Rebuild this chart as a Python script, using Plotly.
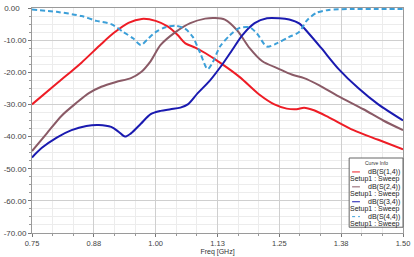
import plotly.graph_objects as go

# ---- data ----
f_s14 = [0.75, 0.80, 0.85, 0.89, 0.915, 0.945, 0.972, 1.00, 1.025, 1.045, 1.06, 1.08, 1.10,
         1.13, 1.17, 1.21, 1.24, 1.265, 1.285, 1.30, 1.32, 1.35, 1.40, 1.45, 1.50]
s14 = [-30, -23.5, -17, -11.2, -7.8, -4.6, -3.4, -4.0, -5.8, -8.5, -11, -12.3, -14,
       -17, -21.5, -27, -30, -31.3, -31.5, -31, -31.8, -34, -38, -41, -44]

f_s24 = [0.75, 0.78, 0.81, 0.84, 0.865, 0.89, 0.92, 0.95, 0.97, 0.99, 1.01, 1.04, 1.07, 1.10,
         1.12, 1.14, 1.165, 1.19, 1.215, 1.25, 1.275, 1.30, 1.33, 1.37, 1.42, 1.46, 1.50]
s24 = [-44.5, -39, -33.5, -29.5, -26.5, -24.5, -23, -21.8, -20, -16.5, -11.5, -7.5, -4.7, -3.3,
       -3.1, -3.6, -7, -12.5, -16.5, -19, -20.7, -21.8, -24, -27.5, -31.5, -35, -38]

f_s34 = [0.75, 0.77, 0.80, 0.83, 0.86, 0.885, 0.91, 0.925, 0.938, 0.95, 0.97, 0.99, 1.01, 1.03,
         1.05, 1.065, 1.085, 1.11, 1.135, 1.155, 1.175, 1.20, 1.225, 1.25, 1.27, 1.29, 1.31,
         1.335, 1.37, 1.41, 1.45, 1.50]
s34 = [-46.5, -43.5, -40.3, -38, -36.7, -36.4, -37, -38.5, -40, -39, -36, -33, -32, -31.5,
       -31, -30, -26.5, -22.5, -17.5, -13, -8.5, -4.7, -3.2, -3.2, -3.6, -4.8, -8,
       -12.5, -19, -25, -30, -35]

f_s44 = [0.75, 0.80, 0.85, 0.88, 0.91, 0.935, 0.955, 0.97, 0.985, 1.00, 1.02, 1.04, 1.06, 1.075,
         1.09, 1.105, 1.115, 1.13, 1.15, 1.17, 1.19, 1.205, 1.225, 1.245, 1.27, 1.29, 1.305,
         1.325, 1.35, 1.40, 1.45, 1.50]
s44 = [-0.5, -1.2, -2.5, -4, -5, -7.5, -9.5, -11.5, -9.5, -7.5, -6, -5.5, -6.5, -9,
       -14, -19, -17, -12, -8.5, -6.2, -6, -8, -12, -11, -9, -7.5, -4,
       -1.5, -0.6, -0.3, -0.3, -0.3]

x_tickvals = [0.75, 0.875, 1.0, 1.125, 1.25, 1.375, 1.5]
x_ticktext = ["0.75", "0.88", "1.00", "1.13", "1.25", "1.38", "1.50"]
y_tickvals = [0, -10, -20, -30, -40, -50, -60, -70]
y_ticktext = ["0.00\u00a0\u00a0\u00a0", "-10.00", "-20.00", "-30.00", "-40.00", "-50.00", "-60.00", "-70.00"]

names = ["dB(S(1,4))", "dB(S(2,4))", "dB(S(3,4))", "dB(S(4,4))"]
colors = ["#ee1c25", "#8a5a66", "#1a1ab0", "#3c9fd8"]
setup = "Setup1 : Sweep"

# ---- figure ----
W, H = 414, 257
L, R, T, B = 28, 7, 4, 19
fig = go.Figure()
series = [(f_s14, s14), (f_s24, s24), (f_s34, s34), (f_s44, s44)]
for i, (fx, fy) in enumerate(series):
    fig.add_trace(go.Scatter(
        x=fx, y=fy, mode="lines", name=names[i], showlegend=False,
        line=dict(color=colors[i], width=2, shape="spline", smoothing=0.8,
                  dash="5px,3px" if i == 3 else "solid"),
        hoverinfo="skip"))

font_fam = "Liberation Sans, Arial, sans-serif"
fig.update_layout(
    width=W, height=H, margin=dict(l=L, r=R, t=T, b=B),
    paper_bgcolor="white", plot_bgcolor="white",
    font=dict(family=font_fam, size=7, color="#333"),
    showlegend=False,
    xaxis=dict(range=[0.75, 1.5], tickvals=x_tickvals, ticktext=x_ticktext,
               tickfont=dict(size=7.5, color="#444"), ticklabeloverflow="allow",
               showgrid=True, gridcolor="#cfcfcf", gridwidth=1,
               showline=True, linecolor="#9a9a9a", mirror=True, linewidth=1,
               ticks="outside", ticklen=3, tickcolor="#777",
               minor=dict(dtick=0.125 / 3, tick0=0.75, showgrid=True, gridcolor="#ececec",
                          ticks="outside", ticklen=2, tickcolor="#999"),
               title=dict(text="Freq [GHz]", font=dict(size=7, color="#333"), standoff=0),
               zeroline=False),
    yaxis=dict(range=[-70, 0], tickvals=y_tickvals, ticktext=y_ticktext,
               tickfont=dict(size=8, color="#444"), ticklabeloverflow="allow",
               showgrid=True, gridcolor="#cfcfcf", gridwidth=1,
               showline=True, linecolor="#9a9a9a", mirror=True, linewidth=1,
               ticks="outside", ticklen=3, tickcolor="#777",
               minor=dict(dtick=2.5, showgrid=True, gridcolor="#ececec",
                          ticks="outside", ticklen=2, tickcolor="#999"),
               zeroline=False),
)

# ---- hand-drawn legend box (HFSS style) ----
pw, ph = W - L - R, H - T - B
def px(xp):
    return (xp - L) / pw
def py(yp):
    return (H - B - yp) / ph

bx0, bx1, by0, by1 = 352, 407, 160, 232
fig.add_shape(type="rect", xref="paper", yref="paper",
              x0=px(bx0), x1=px(bx1), y0=py(by1), y1=py(by0),
              fillcolor="white", line=dict(color="#666", width=1), layer="above")
fig.add_annotation(text="Curve Info", xref="paper", yref="paper", x=px((bx0 + bx1) / 2), y=py(165),
                   showarrow=False, font=dict(size=5, color="#333"), xanchor="center", yanchor="middle")
for i in range(4):
    y1 = 174.5 + i * 15.5
    y2 = y1 + 7.5
    fig.add_shape(type="line", xref="paper", yref="paper", x0=px(355), x1=px(363),
                  y0=py(y1), y1=py(y1), layer="above",
                  line=dict(color=colors[i], width=1, dash="dot" if i == 3 else "solid"))
    fig.add_annotation(text=names[i], xref="paper", yref="paper", x=px(406), y=py(y1),
                       showarrow=False, font=dict(size=7, color="#222"), xanchor="right", yanchor="middle")
    fig.add_annotation(text=setup, xref="paper", yref="paper", x=px(406), y=py(y2),
                       showarrow=False, font=dict(size=7, color="#222"), xanchor="right", yanchor="middle")

fig.write_html("out.html", config={"displayModeBar": False, "staticPlot": True},
               post_script="document.body.style.margin='0';document.body.style.overflow='hidden';")
